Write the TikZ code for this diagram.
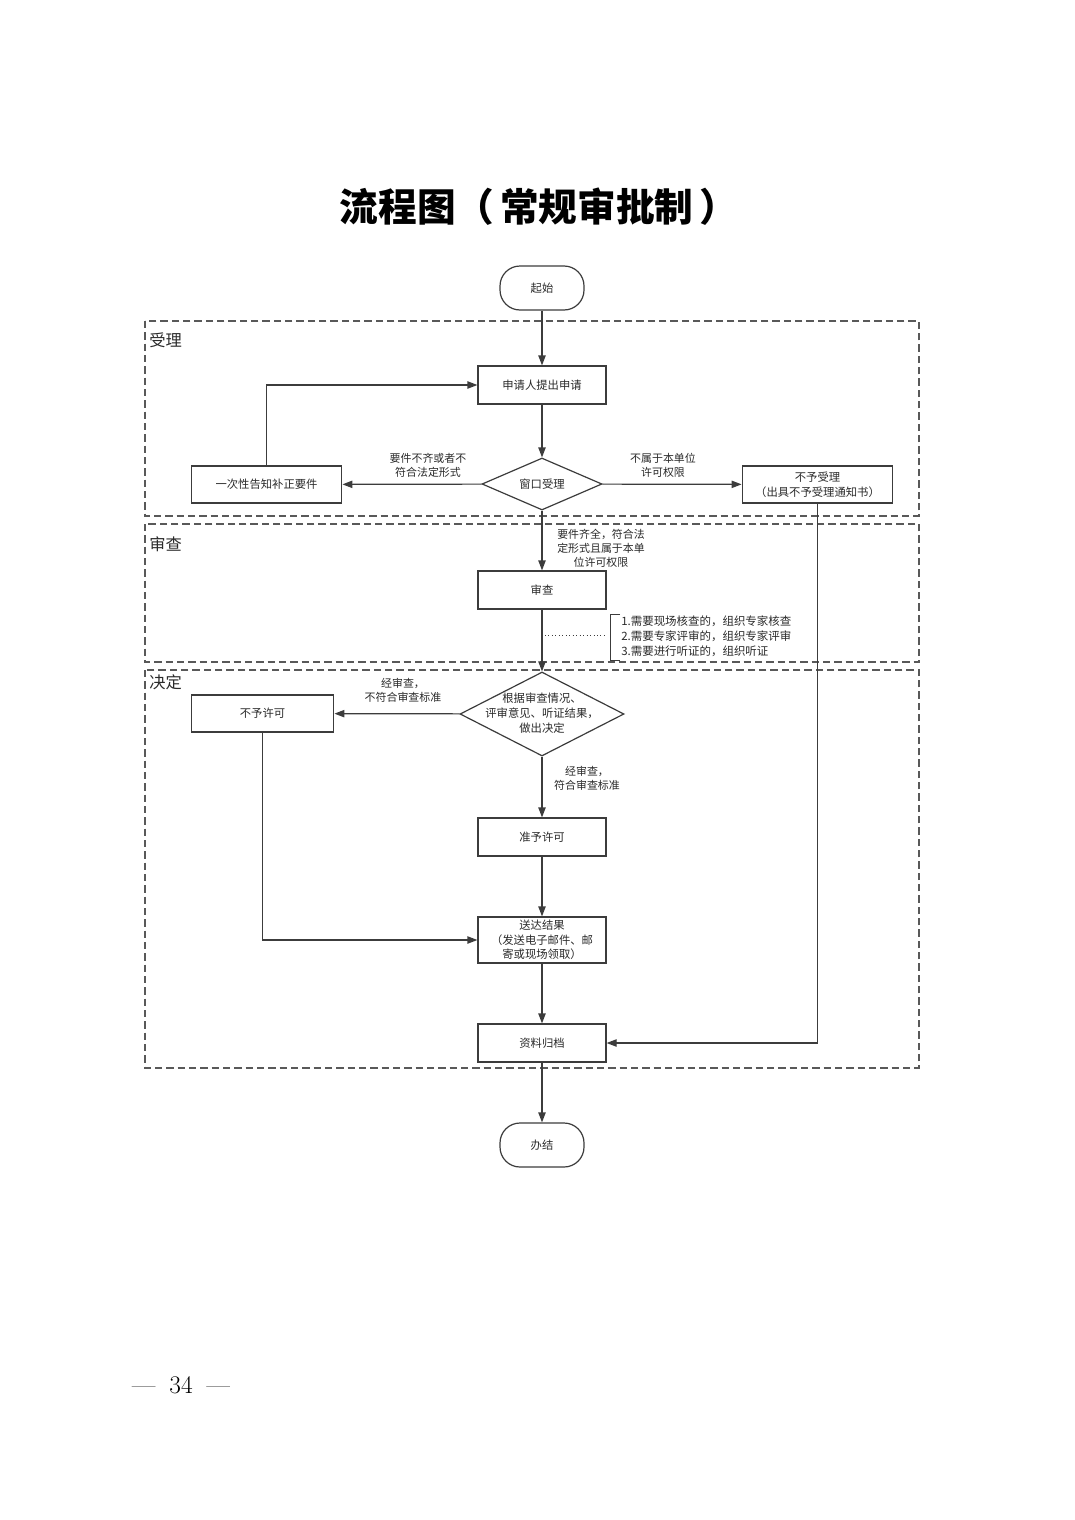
\documentclass[tikz,border=0pt]{standalone}
\usepackage{fontspec}
\newfontfamily\cjk{Noto Sans CJK SC}
\usetikzlibrary{shapes.geometric,arrows.meta}
\definecolor{ln}{HTML}{3C3C3C}
\definecolor{tx}{HTML}{2A2A2A}
\tikzset{
  base/.style={font=\cjk\fontsize{8.5}{11}\selectfont, text=tx, align=center, inner sep=0pt},
  box/.style={base, draw=ln, line width=0.9pt, rectangle},
  term/.style={base, draw=ln, line width=0.9pt, rectangle, rounded corners=15pt, minimum width=63pt, minimum height=33pt},
  dia/.style={draw=ln, line width=0.9pt, diamond, inner sep=0pt},
  elab/.style={font=\cjk\fontsize{8.2}{10.6}\selectfont, text=tx, align=center, inner sep=0pt},
  lane/.style={draw=ln!85, line width=0.9pt, dash pattern=on 5.5pt off 3pt},
  lanelab/.style={font=\cjk\fontsize{12.2}{14}\selectfont, text=tx, anchor=west, inner sep=0pt},
  arr/.style={draw=ln, line width=0.9pt, -{Triangle[length=7.5pt,width=5.5pt]}},
  ln/.style={draw=ln, line width=0.9pt}
}
\begin{document}
\begin{tikzpicture}[x=0.75pt,y=-0.75pt]
\useasboundingbox (0,0) rectangle (1074,1520);
\fill[white] (0,0) rectangle (1074,1520);

% title
\node[font=\cjk\bfseries\fontsize{29}{32}\selectfont, inner sep=0pt] (title) at (539,207) {流程图（\hspace{0.15em}常规审批制\hspace{0.15em}）};

% lanes
\draw[lane] (145,321) rectangle (919,516);
\draw[lane] (145,524) rectangle (919,662);
\draw[lane] (145,670) rectangle (919,1068);
\node[lanelab] (l1) at (149,340) {受理};
\node[lanelab] (l2) at (149,544) {审查};
\node[lanelab] (l3) at (149,682) {决定};

% nodes
\node[term] (start) at (542,288) {起始};
\node[box, minimum width=96pt, minimum height=28.5pt] (apply) at (542,385) {申请人提出申请};
\node[dia, minimum width=90pt, minimum height=39pt] (win) at (542,484) {};
\node[base] (wintxt) at (542,484) {窗口受理};
\node[box, minimum width=113pt, minimum height=27.75pt] (notify) at (266.5,484.5) {一次性告知补正要件};
\node[box, minimum width=113pt, minimum height=27.75pt] (reject) at (817.5,484.5) {不予受理\\（出具不予受理通知书）};
\node[box, minimum width=96pt, minimum height=28.5pt] (review) at (542,590) {审查};
\node[dia, minimum width=123pt, minimum height=63pt] (dec) at (542,714) {};
\node[base, font=\cjk\fontsize{8.5}{11.2}\selectfont] (dectxt) at (542,713) {根据审查情况、\\评审意见、听证结果，\\做出决定};
\node[box, minimum width=107pt, minimum height=27.75pt] (deny) at (262.5,713.5) {不予许可};
\node[box, minimum width=96pt, minimum height=28.5pt] (grant) at (542,837) {准予许可};
\node[box, minimum width=96pt, minimum height=34.5pt] (deliver) at (542,940) {送达结果\\（发送电子邮件、邮\\寄或现场领取）};
\node[box, minimum width=96pt, minimum height=28.5pt] (archive) at (542,1043) {资料归档};
\node[term] (end) at (542,1145) {办结};

% edge labels
\node[elab] (lb1) at (428,465) {要件不齐或者不\\符合法定形式};
\node[elab] (lb2) at (663,465) {不属于本单位\\许可权限};
\node[elab] (lb3) at (601,548) {要件齐全，符合法\\定形式且属于本单\\位许可权限};
\node[elab] (lb4) at (403,690) {经审查，\\不符合审查标准};
\node[elab] (lb5) at (587,778) {经审查，\\符合审查标准};

% notes with bracket
\node[base, align=left, anchor=west, font=\cjk\fontsize{8.6}{11.2}\selectfont] (notes) at (621,636) {1.需要现场核查的，组织专家核查\\2.需要专家评审的，组织专家评审\\3.需要进行听证的，组织听证};
\coordinate (bt) at (620,614);
\coordinate (bb) at (620,660);
\draw[ln, line width=0.7pt] (bt) -- ++(-10,0) -- ++(0,46) -- (bb);
\coordinate (d1) at (545,635);
\coordinate (d2) at (606,635);
\draw[ln, line width=0.6pt, dotted] (d1) -- (d2);

% connectors
\draw[arr] (start) -- (apply);
\draw[arr] (apply) -- (win);
\draw[arr] (win) -- (notify);
\draw[arr] (notify.north) |- (apply.west);
\draw[arr] (win) -- (reject);
\draw[arr] (win) -- (review);
\draw[arr] (review) -- (dec);
\draw[arr] (dec) -- (deny);
\draw[arr] (dec) -- (grant);
\draw[arr] (grant) -- (deliver);
\draw[arr] (deny.south) |- (deliver.west);
\draw[arr] (deliver) -- (archive);
\draw[arr] (reject.south) |- (archive.east);
\draw[arr] (archive) -- (end);

% page number
\node[font=\fontsize{19}{22}\selectfont, inner sep=0pt] (page) at (181,1385) {—\hspace{0.55em}34\hspace{0.55em}—};
\end{tikzpicture}
\end{document}
